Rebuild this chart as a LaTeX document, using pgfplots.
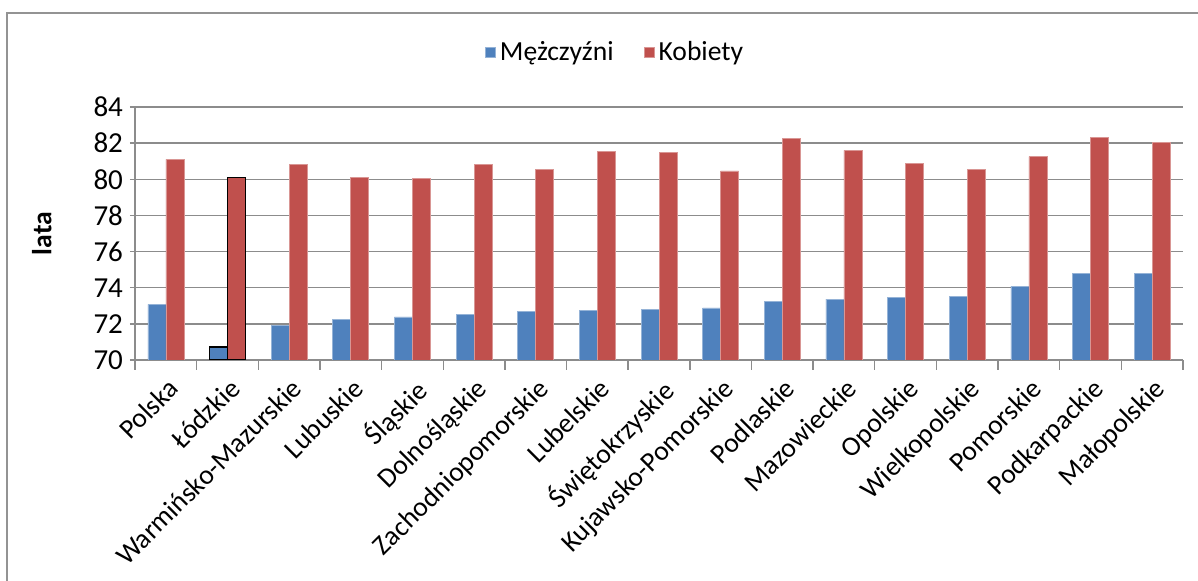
\documentclass[border=0pt]{standalone}
\usepackage{pgfplots}
\pgfplotsset{compat=1.18}
\usepackage{fontspec}
\setmainfont{Carlito}

\definecolor{mblue}{RGB}{79,129,189}
\definecolor{kred}{RGB}{192,80,77}
\definecolor{gridc}{RGB}{140,140,140}

\begin{document}
\begin{tikzpicture}[font=\fontsize{13.8}{16}\selectfont]
\begin{axis}[
    name=ax,
    scale only axis,
    width=524pt, height=126.5pt,
    ymin=70, ymax=84, ytick={70,72,...,84},
    xmin=-0.5, xmax=16.5,
    xtick=data,
    xticklabels={Polska, Łódzkie, Warmińsko-Mazurskie, Lubuskie, Śląskie,
      Dolnośląskie, Zachodniopomorskie, Lubelskie, Świętokrzyskie,
      Kujawsko-Pomorskie, Podlaskie, Mazowieckie, Opolskie, Wielkopolskie,
      Pomorskie, Podkarpackie, Małopolskie},
    xticklabel style={rotate=45, anchor=north east, inner sep=1pt, xshift=-1pt, yshift=-1.5pt},
    yticklabel style={font=\fontsize{14.5}{16}\selectfont},
    minor xtick={-0.5,0.5,...,16.5},
    major x tick style={draw=none},
    minor x tick style={draw=gridc, line width=0.7pt},
    y tick style={draw=gridc, line width=0.7pt},
    tick align=outside,
    major tick length=5pt, minor tick length=5pt,
    axis lines=left,
    axis line style={-, draw=gridc, line width=0.7pt},
    ymajorgrids,
    grid style={draw=gridc, line width=0.75pt},
    ylabel={\textbf{lata}},
    ylabel style={at={(axis description cs:-0.089,0.5)}, anchor=center},
    /pgf/number format/assume math mode=true,
    ybar, bar width=9pt,
    legend style={at={(0.459,1.217)}, anchor=center, legend columns=2, draw=none,
      /tikz/every even column/.append style={column sep=13pt}},
    legend image code/.code={\fill[#1] (0pt,-2.6pt) rectangle (5.2pt,2.6pt);},
]
\addplot[fill=mblue, draw=mblue!60!white, line width=0.3pt, bar shift=-4.5pt] coordinates {
  (0,73.08) (1,70.72) (2,71.90) (3,72.25) (4,72.38) (5,72.53) (6,72.67)
  (7,72.75) (8,72.82) (9,72.88) (10,73.25) (11,73.37) (12,73.45)
  (13,73.52) (14,74.09) (15,74.80) (16,74.80)
};
\addlegendentry{Mężczyźni}
\addplot[fill=kred, draw=kred!60!white, line width=0.3pt, bar shift=4.5pt] coordinates {
  (0,81.10) (1,80.09) (2,80.83) (3,80.11) (4,80.03) (5,80.83) (6,80.55)
  (7,81.53) (8,81.47) (9,80.46) (10,82.25) (11,81.60) (12,80.90)
  (13,80.55) (14,81.25) (15,82.30) (16,82.02)
};
\addlegendentry{Kobiety}
% highlighted point (Lodzkie)
\addplot[fill=mblue, draw=black, line width=0.7pt, bar shift=-4.5pt, forget plot] coordinates {(1,70.72)};
\addplot[fill=kred, draw=black, line width=0.7pt, bar shift=4.5pt, forget plot] coordinates {(1,80.09)};
\end{axis}
\path[use as bounding box] ([xshift=-67.5pt,yshift=-110.5pt]ax.south west) rectangle ([xshift=7.5pt,yshift=53.5pt]ax.north east);
\draw[gray!85, line width=1pt] ([xshift=-64pt,yshift=-115pt]ax.south west) -- ([xshift=-64pt,yshift=47pt]ax.north west) -- ([xshift=20pt,yshift=47pt]ax.north east);
\end{tikzpicture}
\end{document}
